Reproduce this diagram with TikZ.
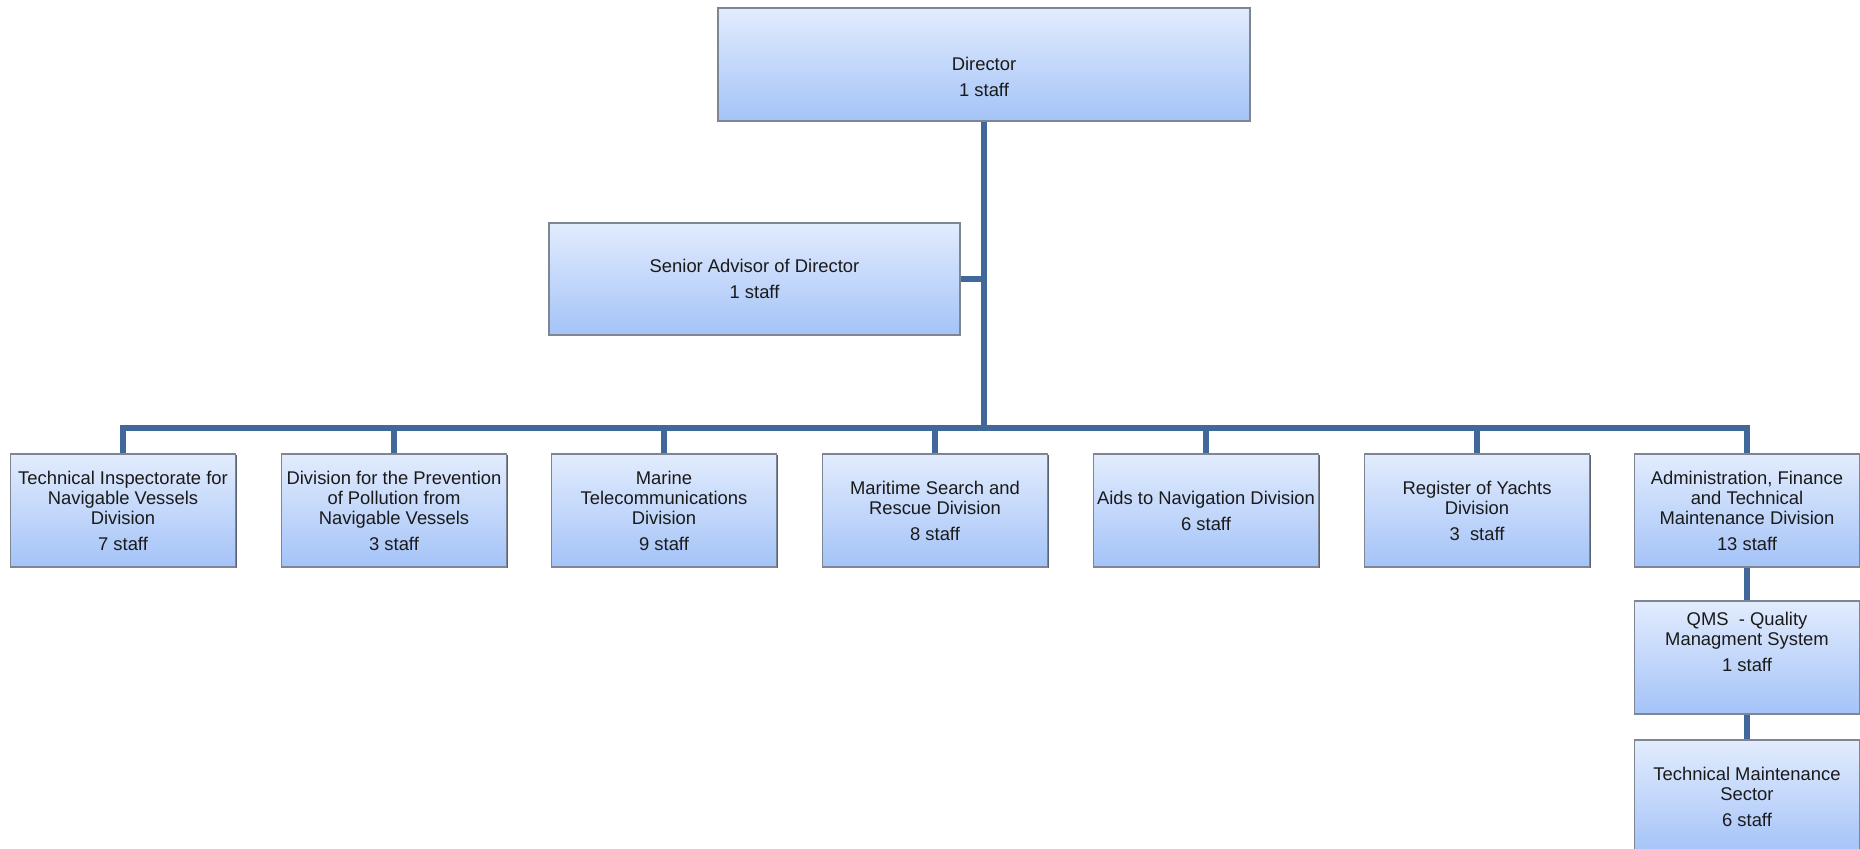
\documentclass[tikz,border=0pt]{standalone}
\usepackage{fontspec}
\setmainfont{Liberation Sans}
\usetikzlibrary{shadows}
\definecolor{conn}{HTML}{41689A}
\definecolor{boxtop}{HTML}{E2ECFD}
\definecolor{boxbot}{HTML}{A4C3F8}
\definecolor{boxline}{HTML}{7E8694}
\definecolor{shadowc}{HTML}{5C6370}
\definecolor{txtc}{HTML}{1A1A1A}
\tikzset{
  orgbox/.style={draw=boxline, line width=0.6pt, top color=boxtop, bottom color=boxbot,
    minimum width=112.5pt, minimum height=56.5pt, inner sep=0pt, align=center,
    text=txtc, font=\fontsize{9.2}{10}\selectfont,
    drop shadow={shadow xshift=0.6pt, shadow yshift=-0.7pt, fill=shadowc, opacity=1}},
  orgtxt/.style={align=center, inner sep=0pt, text=txtc, font=\fontsize{9.2}{10}\selectfont},
  link/.style={draw=conn, line width=2.6pt, line join=miter}
}
\begin{document}
\begin{tikzpicture}[x=0.5pt, y=-0.5pt]
\useasboundingbox (0,0) rectangle (1860,848);
% top level
\node[orgbox, minimum width=266pt, minimum height=56.5pt] (dir) at (984,64.5) {};
\node[orgtxt] (dirt) at (984,77) {Director\\[3pt]1 staff};
\node[orgbox, minimum width=205.5pt, minimum height=56pt] (sen) at (754.5,279) {Senior Advisor of Director\\[3pt]1 staff};
% divisions
\node[orgbox] (b1) at (123,510.5) {Technical Inspectorate for\\Navigable Vessels\\Division\\[3pt]7 staff};
\node[orgbox] (b2) at (394,510.5) {Division for the Prevention\\of Pollution from\\Navigable Vessels\\[3pt]3 staff};
\node[orgbox] (b3) at (664,510.5) {Marine\\Telecommunications\\Division\\[3pt]9 staff};
\node[orgbox] (b4) at (935,510.5) {Maritime Search and\\Rescue Division\\[3pt]8 staff};
\node[orgbox] (b5) at (1206,510.5) {Aids to Navigation Division\\[3pt]6 staff};
\node[orgbox] (b6) at (1477,510.5) {Register of Yachts\\Division\\[3pt]3\ \ staff};
\node[orgbox] (b7) at (1747,510.5) {Administration, Finance\\and Technical\\Maintenance Division\\[3pt]13 staff};
% sub units
\node[orgbox] (qms) at (1747,657.5) {};
\node[orgtxt] (qmst) at (1747,642) {QMS\ \ - Quality\\Managment System\\[3pt]1 staff};
\node[orgbox] (tms) at (1747,796.5) {Technical Maintenance\\Sector\\[3pt]6 staff};
% connectors
\coordinate (bus) at (984,428);
\draw[link] (dir.south) -- (bus);
\draw[link] (sen.east) -- (sen.east -| dir.south);
\draw[link] (b1.north) -- (b1.north |- bus) -- (b7.north |- bus) -- (b7.north);
\foreach \b in {b2,b3,b4,b5,b6} {
  \draw[link] (\b.north) -- (\b.north |- bus);
}
\draw[link] (b7.south) -- (qms.north);
\draw[link] (qms.south) -- (tms.north);
\end{tikzpicture}
\end{document}
